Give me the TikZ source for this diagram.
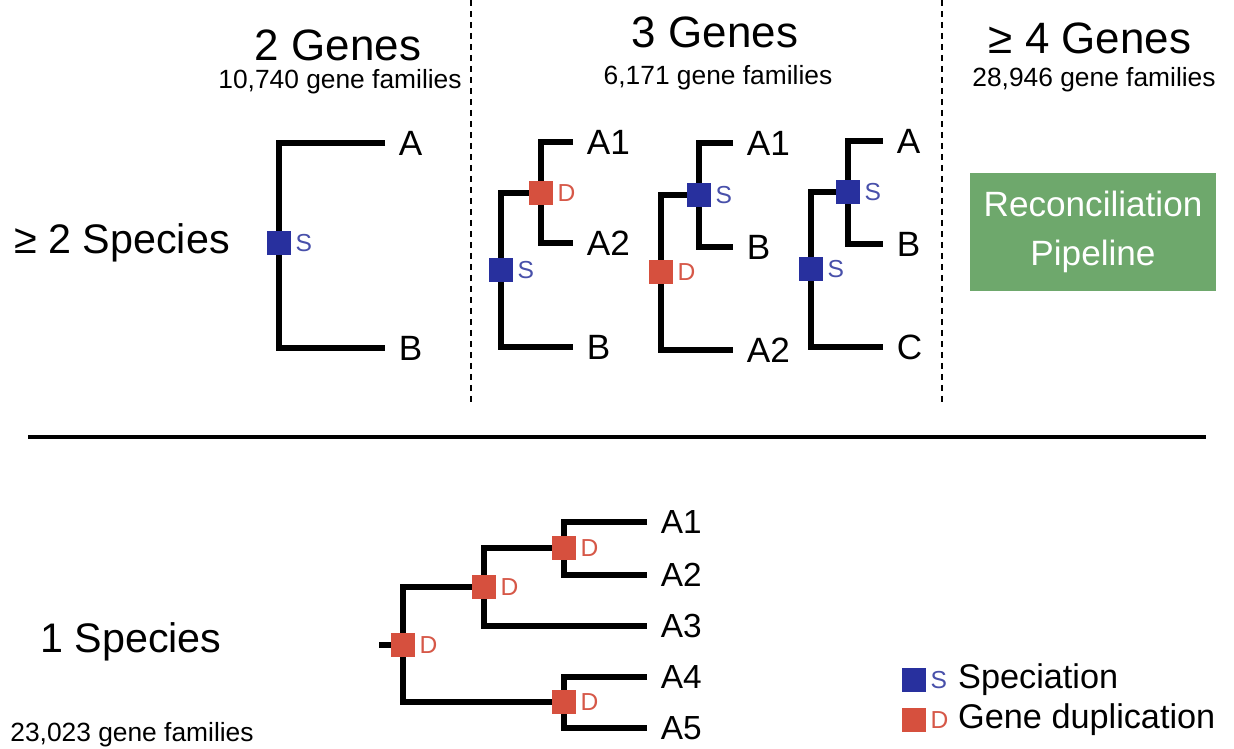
\documentclass[tikz,border=0pt]{standalone}
\usepackage{fontspec}
\setmainfont{Liberation Sans}
\usetikzlibrary{positioning}
\usepackage{xcolor}

\definecolor{sblue}{RGB}{40,48,158}
\definecolor{slabel}{RGB}{72,80,170}
\definecolor{dred}{RGB}{214,80,62}
\definecolor{dlabel}{RGB}{214,88,72}
\definecolor{pipegreen}{RGB}{110,168,108}

\pgfdeclarelayer{background}
\pgfsetlayers{background,main}

\tikzset{
    branch/.style = {line width=0.12cm, line join=miter},
    sq/.style = {rectangle, minimum size=0.48cm, inner sep=0pt},
    spec/.style = {sq, fill=sblue,
        label={[font=\fontsize{14}{16}\selectfont, text=slabel, inner sep=0.08cm]0:S}},
    dup/.style = {sq, fill=dred,
        label={[font=\fontsize{14}{16}\selectfont, text=dlabel, inner sep=0.08cm]0:D}},
    leaf/.style = {anchor=west, inner xsep=0.27cm, inner ysep=0pt,
        font=\fontsize{20}{22}\selectfont},
    bigleaf/.style = {leaf, font=\fontsize{19}{21}\selectfont},
    title/.style = {font=\fontsize{25}{28}\selectfont},
    count/.style = {font=\fontsize{15}{17}\selectfont},
    rowname/.style = {font=\fontsize{23.5}{26}\selectfont},
    keytext/.style = {anchor=west, font=\fontsize{19.5}{22}\selectfont},
    divider/.style = {line width=0.04cm, dash pattern=on 0.12cm off 0.1cm}
}

\begin{document}
\begin{tikzpicture}[x=0.02cm, y=-0.02cm]
    \useasboundingbox (0,0) rectangle (1234,749);

    % column and row headings
    \node[title] (g2) at (338,45) {2 Genes};
    \node[count] (g2n) at (340,82) {10,740 gene families};
    \node[title] (g3) at (715,32) {3 Genes};
    \node[count] (g3n) at (718,78) {6,171 gene families};
    \node[title] (g4) at (1090,38) {≥ 4 Genes};
    \node[count] (g4n) at (1094,80) {28,946 gene families};
    \node[rowname] (sp2) at (122,243) {≥ 2 Species};
    \node[rowname] (sp1) at (131,642) {1 Species};
    \node[count] (sp1n) at (132,735) {23,023 gene families};

    \draw[divider] (471,0) -- (471,402);
    \draw[divider] (942,0) -- (942,402);
    \draw[line width=0.07cm] (28,437) -- (1206,437);

    % 2 genes
    \node[spec] (t1s) at (279,243) {};
    \coordinate (t1r) at (267,243);
    \node[leaf] (t1a) at (385,143) {A};
    \node[leaf] (t1b) at (385,348) {B};

    % 3 genes, first tree
    \node[spec] (t2s) at (501,270) {};
    \node[dup] (t2d) at (541,193) {};
    \coordinate (t2r) at (491,270);
    \node[leaf] (t2a1) at (573,142) {A1};
    \node[leaf] (t2a2) at (573,243) {A2};
    \node[leaf] (t2b) at (573,347) {B};

    % 3 genes, second tree
    \node[dup] (t3d) at (661,272) {};
    \node[spec] (t3s) at (699,195) {};
    \coordinate (t3r) at (651,272);
    \node[leaf] (t3a1) at (733,143) {A1};
    \node[leaf] (t3b) at (733,247) {B};
    \node[leaf] (t3a2) at (733,350) {A2};

    % 3 genes, third tree
    \node[spec] (t4s1) at (811,269) {};
    \node[spec] (t4s2) at (848,192) {};
    \coordinate (t4r) at (801,269);
    \node[leaf] (t4a) at (883,141) {A};
    \node[leaf] (t4b) at (883,244) {B};
    \node[leaf] (t4c) at (883,347) {C};

    % 4 or more genes
    \node[rectangle, fill=pipegreen, text=white, align=center,
          minimum width=4.92cm, minimum height=2.38cm,
          font=\fontsize{20}{28}\selectfont] (pipe) at (1093,232)
          {Reconciliation\\Pipeline};

    % 1 species
    \node[dup] (b1) at (403,645) {};
    \node[dup] (b2) at (484,587) {};
    \node[dup] (b3) at (564,548) {};
    \node[dup] (b4) at (564,702) {};
    \coordinate (br) at (379,645);
    \node[bigleaf] (ba1) at (647,522) {A1};
    \node[bigleaf] (ba2) at (647,575) {A2};
    \node[bigleaf] (ba3) at (647,626) {A3};
    \node[bigleaf] (ba4) at (647,677) {A4};
    \node[bigleaf] (ba5) at (647,728) {A5};

    % legend
    \node[spec] (ks) at (914,680) {};
    \node[dup] (kd) at (914,720) {};
    \node[keytext] (kst) at (952,680) {Speciation};
    \node[keytext] (kdt) at (952,720) {Gene duplication};

    \begin{pgfonlayer}{background}
        \draw[branch] (t1r) -- (t1s.center);
        \draw[branch] (t1a.west) -| (t1s.center) |- (t1b.west);

        \draw[branch] (t2r) -- (t2s.center);
        \draw[branch] (t2d.center) -| (t2s.center) |- (t2b.west);
        \draw[branch] (t2a1.west) -| (t2d.center) |- (t2a2.west);

        \draw[branch] (t3r) -- (t3d.center);
        \draw[branch] (t3s.center) -| (t3d.center) |- (t3a2.west);
        \draw[branch] (t3a1.west) -| (t3s.center) |- (t3b.west);

        \draw[branch] (t4r) -- (t4s1.center);
        \draw[branch] (t4s2.center) -| (t4s1.center) |- (t4c.west);
        \draw[branch] (t4a.west) -| (t4s2.center) |- (t4b.west);

        \draw[branch] (br) -- (b1.center);
        \draw[branch] (b2.center) -| (b1.center) |- (b4.center);
        \draw[branch] (b3.center) -| (b2.center) |- (ba3.west);
        \draw[branch] (ba1.west) -| (b3.center) |- (ba2.west);
        \draw[branch] (ba4.west) -| (b4.center) |- (ba5.west);
    \end{pgfonlayer}
\end{tikzpicture}
\end{document}
